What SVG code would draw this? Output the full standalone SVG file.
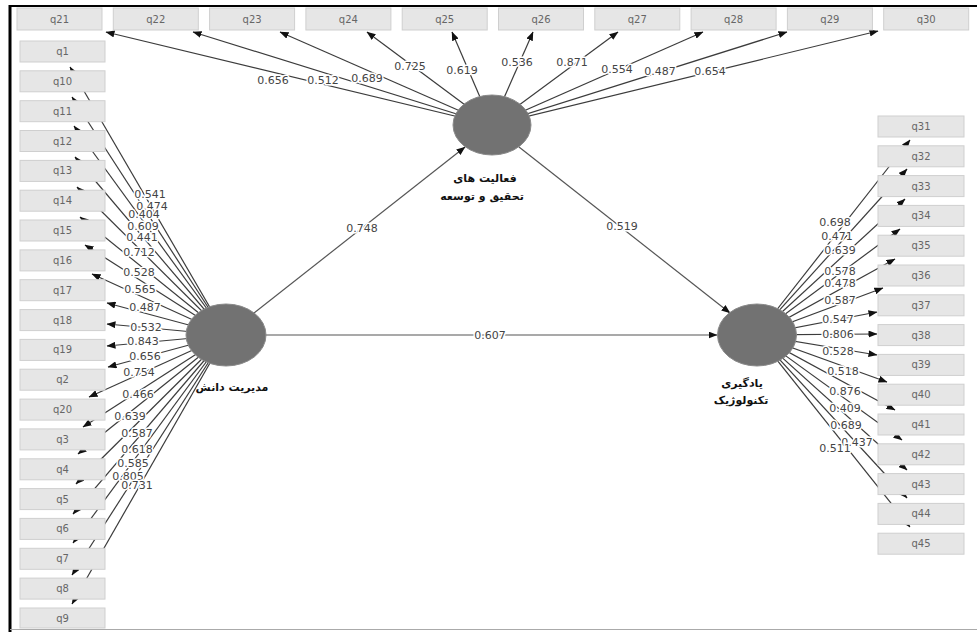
<svg xmlns="http://www.w3.org/2000/svg" width="977" height="632" viewBox="0 0 977 632">
<defs>
<marker id="ah" markerUnits="userSpaceOnUse" markerWidth="9" markerHeight="7" refX="8.5" refY="3.5" orient="auto"><path d="M0,0 L9,3.5 L0,7 z" fill="#111"/></marker>
<style>
.box{fill:#e6e6e6;stroke:#cfcfcf;stroke-width:1}
.bt{font-family:"DejaVu Sans",sans-serif;font-size:10px;fill:#666;text-anchor:middle}
.ind{stroke:#3c3c3c;stroke-width:1.2;marker-end:url(#ah)}
.str{stroke:#555;stroke-width:1.2;marker-end:url(#ah)}
.lv{fill:#727272;stroke:#8a8a8a;stroke-width:1}
.lb{font-family:"DejaVu Sans",sans-serif;font-size:11px;fill:#444;text-anchor:middle;paint-order:stroke;stroke:#fff;stroke-width:3px;stroke-linejoin:round}
.fa{font-family:"DejaVu Sans","Noto Sans",sans-serif;font-size:11px;font-weight:bold;fill:#111;text-anchor:middle}
</style>
</defs>
<rect width="977" height="632" fill="#fff"/>
<g id="frame">
<line x1="10" y1="5" x2="10" y2="632" stroke="#000" stroke-width="3"/>
<line x1="9" y1="6" x2="977" y2="6" stroke="#000" stroke-width="2"/>
<line x1="10" y1="629.5" x2="977" y2="629.5" stroke="#aaa" stroke-width="1"/>
</g>
<g id="connectors">
<!-- top fan from R&D -->
<line class="ind" x1="492" y1="125" x2="106" y2="32"/>
<line class="ind" x1="492" y1="125" x2="193" y2="32"/>
<line class="ind" x1="492" y1="125" x2="280" y2="32"/>
<line class="ind" x1="492" y1="125" x2="367" y2="32"/>
<line class="ind" x1="492" y1="125" x2="452" y2="32"/>
<line class="ind" x1="492" y1="125" x2="533" y2="32"/>
<line class="ind" x1="492" y1="125" x2="618" y2="32"/>
<line class="ind" x1="492" y1="125" x2="703" y2="32"/>
<line class="ind" x1="492" y1="125" x2="787" y2="32"/>
<line class="ind" x1="492" y1="125" x2="878" y2="31"/>
<!-- left fan from KM -->
<line class="ind" x1="226" y1="335" x2="70" y2="67"/>
<line class="ind" x1="226" y1="335" x2="72" y2="97"/>
<line class="ind" x1="226" y1="335" x2="74" y2="126"/>
<line class="ind" x1="226" y1="335" x2="75" y2="157"/>
<line class="ind" x1="226" y1="335" x2="77" y2="187"/>
<line class="ind" x1="226" y1="335" x2="80" y2="217"/>
<line class="ind" x1="226" y1="335" x2="85" y2="245"/>
<line class="ind" x1="226" y1="335" x2="92" y2="274"/>
<line class="ind" x1="226" y1="335" x2="107" y2="303"/>
<line class="ind" x1="226" y1="335" x2="107" y2="324"/>
<line class="ind" x1="226" y1="335" x2="107" y2="346"/>
<line class="ind" x1="226" y1="335" x2="108" y2="367"/>
<line class="ind" x1="226" y1="335" x2="89" y2="397"/>
<line class="ind" x1="226" y1="335" x2="83" y2="427"/>
<line class="ind" x1="226" y1="335" x2="78" y2="454"/>
<line class="ind" x1="226" y1="335" x2="76" y2="484"/>
<line class="ind" x1="226" y1="335" x2="73" y2="514"/>
<line class="ind" x1="226" y1="335" x2="73" y2="543"/>
<line class="ind" x1="226" y1="335" x2="72" y2="575"/>
<line class="ind" x1="226" y1="335" x2="72" y2="604"/>
<!-- right fan from learning -->
<line class="ind" x1="757" y1="335" x2="910" y2="140"/>
<line class="ind" x1="757" y1="335" x2="907" y2="169"/>
<line class="ind" x1="757" y1="335" x2="905" y2="199"/>
<line class="ind" x1="757" y1="335" x2="900" y2="229"/>
<line class="ind" x1="757" y1="335" x2="895" y2="259"/>
<line class="ind" x1="757" y1="335" x2="883" y2="288"/>
<line class="ind" x1="757" y1="335" x2="877" y2="312"/>
<line class="ind" x1="757" y1="335" x2="877" y2="334"/>
<line class="ind" x1="757" y1="335" x2="877" y2="355"/>
<line class="ind" x1="757" y1="335" x2="887" y2="382"/>
<line class="ind" x1="757" y1="335" x2="895" y2="410"/>
<line class="ind" x1="757" y1="335" x2="902" y2="440"/>
<line class="ind" x1="757" y1="335" x2="907" y2="470"/>
<line class="ind" x1="757" y1="335" x2="907" y2="498"/>
<line class="ind" x1="757" y1="335" x2="910" y2="527"/>
<!-- structural paths -->
<line class="str" x1="254" y1="313" x2="465" y2="147"/>
<line class="str" x1="519" y1="147" x2="730" y2="313"/>
<line class="str" x1="266" y1="335" x2="717" y2="335"/>
<!-- labels: top -->
<text class="lb" x="273" y="84">0.656</text>
<text class="lb" x="323" y="84">0.512</text>
<text class="lb" x="367" y="82">0.689</text>
<text class="lb" x="410" y="70">0.725</text>
<text class="lb" x="462" y="74">0.619</text>
<text class="lb" x="517" y="66">0.536</text>
<text class="lb" x="572" y="66">0.871</text>
<text class="lb" x="617" y="73">0.554</text>
<text class="lb" x="660" y="75">0.487</text>
<text class="lb" x="710" y="75">0.654</text>
<!-- labels: left -->
<text class="lb" x="150" y="198">0.541</text>
<text class="lb" x="152" y="210">0.474</text>
<text class="lb" x="144" y="218">0.404</text>
<text class="lb" x="143" y="230">0.609</text>
<text class="lb" x="142" y="241">0.441</text>
<text class="lb" x="139" y="256">0.712</text>
<text class="lb" x="139" y="276">0.528</text>
<text class="lb" x="140" y="293">0.565</text>
<text class="lb" x="145" y="311">0.487</text>
<text class="lb" x="146" y="331">0.532</text>
<text class="lb" x="143" y="345">0.843</text>
<text class="lb" x="145" y="360">0.656</text>
<text class="lb" x="139" y="376">0.754</text>
<text class="lb" x="138" y="398">0.466</text>
<text class="lb" x="130" y="420">0.639</text>
<text class="lb" x="137" y="437">0.587</text>
<text class="lb" x="137" y="453">0.618</text>
<text class="lb" x="133" y="467">0.585</text>
<text class="lb" x="128" y="480">0.805</text>
<text class="lb" x="137" y="489">0.731</text>
<!-- labels: right -->
<text class="lb" x="835" y="226">0.698</text>
<text class="lb" x="837" y="240">0.471</text>
<text class="lb" x="840" y="254">0.639</text>
<text class="lb" x="840" y="275">0.578</text>
<text class="lb" x="840" y="287">0.478</text>
<text class="lb" x="840" y="304">0.587</text>
<text class="lb" x="838" y="323">0.547</text>
<text class="lb" x="838" y="338">0.806</text>
<text class="lb" x="838" y="355">0.528</text>
<text class="lb" x="843" y="375">0.518</text>
<text class="lb" x="845" y="395">0.876</text>
<text class="lb" x="845" y="412">0.409</text>
<text class="lb" x="846" y="429">0.689</text>
<text class="lb" x="857" y="446">0.437</text>
<text class="lb" x="835" y="452">0.511</text>
<!-- structural labels -->
<text class="lb" x="362" y="232">0.748</text>
<text class="lb" x="622" y="230">0.519</text>
<text class="lb" x="490" y="339">0.607</text>
</g>
<g id="lv-rd"><ellipse class="lv" cx="492" cy="125" rx="39" ry="30"/><text class="fa" x="485" y="182">فعالیت های</text><text class="fa" x="482" y="200">تحقیق و توسعه</text></g>
<g id="lv-km"><ellipse class="lv" cx="226" cy="335" rx="40" ry="31"/><text class="fa" x="232" y="391">مدیریت دانش</text></g>
<g id="lv-tl"><ellipse class="lv" cx="757" cy="335" rx="39.5" ry="31"/><text class="fa" x="742" y="387">یادگیری</text><text class="fa" x="741" y="404">تکنولوژیک</text></g>
<g id="q21"><rect class="box" x="17" y="8" width="85" height="22"/><text class="bt" x="59.5" y="23">q21</text></g>
<g id="q22"><rect class="box" x="113.3" y="8" width="85" height="22"/><text class="bt" x="155.8" y="23">q22</text></g>
<g id="q23"><rect class="box" x="209.6" y="8" width="85" height="22"/><text class="bt" x="252.1" y="23">q23</text></g>
<g id="q24"><rect class="box" x="305.9" y="8" width="85" height="22"/><text class="bt" x="348.4" y="23">q24</text></g>
<g id="q25"><rect class="box" x="402.2" y="8" width="85" height="22"/><text class="bt" x="444.7" y="23">q25</text></g>
<g id="q26"><rect class="box" x="498.5" y="8" width="85" height="22"/><text class="bt" x="541" y="23">q26</text></g>
<g id="q27"><rect class="box" x="594.8" y="8" width="85" height="22"/><text class="bt" x="637.3" y="23">q27</text></g>
<g id="q28"><rect class="box" x="691.1" y="8" width="85" height="22"/><text class="bt" x="733.6" y="23">q28</text></g>
<g id="q29"><rect class="box" x="787.4" y="8" width="85" height="22"/><text class="bt" x="829.9" y="23">q29</text></g>
<g id="q30"><rect class="box" x="883.7" y="8" width="85" height="22"/><text class="bt" x="926.2" y="23">q30</text></g>
<g id="q1"><rect class="box" x="20" y="41" width="85" height="21"/><text class="bt" x="62.5" y="55">q1</text></g>
<g id="q10"><rect class="box" x="20" y="70.8" width="85" height="21"/><text class="bt" x="62.5" y="84.8">q10</text></g>
<g id="q11"><rect class="box" x="20" y="100.7" width="85" height="21"/><text class="bt" x="62.5" y="114.7">q11</text></g>
<g id="q12"><rect class="box" x="20" y="130.5" width="85" height="21"/><text class="bt" x="62.5" y="144.5">q12</text></g>
<g id="q13"><rect class="box" x="20" y="160.4" width="85" height="21"/><text class="bt" x="62.5" y="174.4">q13</text></g>
<g id="q14"><rect class="box" x="20" y="190.2" width="85" height="21"/><text class="bt" x="62.5" y="204.2">q14</text></g>
<g id="q15"><rect class="box" x="20" y="220" width="85" height="21"/><text class="bt" x="62.5" y="234">q15</text></g>
<g id="q16"><rect class="box" x="20" y="249.9" width="85" height="21"/><text class="bt" x="62.5" y="263.9">q16</text></g>
<g id="q17"><rect class="box" x="20" y="279.7" width="85" height="21"/><text class="bt" x="62.5" y="293.7">q17</text></g>
<g id="q18"><rect class="box" x="20" y="309.6" width="85" height="21"/><text class="bt" x="62.5" y="323.6">q18</text></g>
<g id="q19"><rect class="box" x="20" y="339.4" width="85" height="21"/><text class="bt" x="62.5" y="353.4">q19</text></g>
<g id="q2"><rect class="box" x="20" y="369.2" width="85" height="21"/><text class="bt" x="62.5" y="383.2">q2</text></g>
<g id="q20"><rect class="box" x="20" y="399.1" width="85" height="21"/><text class="bt" x="62.5" y="413.1">q20</text></g>
<g id="q3"><rect class="box" x="20" y="428.9" width="85" height="21"/><text class="bt" x="62.5" y="442.9">q3</text></g>
<g id="q4"><rect class="box" x="20" y="458.8" width="85" height="21"/><text class="bt" x="62.5" y="472.8">q4</text></g>
<g id="q5"><rect class="box" x="20" y="488.6" width="85" height="21"/><text class="bt" x="62.5" y="502.6">q5</text></g>
<g id="q6"><rect class="box" x="20" y="518.4" width="85" height="21"/><text class="bt" x="62.5" y="532.4">q6</text></g>
<g id="q7"><rect class="box" x="20" y="548.3" width="85" height="21"/><text class="bt" x="62.5" y="562.3">q7</text></g>
<g id="q8"><rect class="box" x="20" y="578.1" width="85" height="21"/><text class="bt" x="62.5" y="592.1">q8</text></g>
<g id="q9"><rect class="box" x="20" y="608" width="85" height="20"/><text class="bt" x="62.5" y="621.5">q9</text></g>
<g id="q31"><rect class="box" x="878" y="116" width="86" height="21"/><text class="bt" x="921" y="130">q31</text></g>
<g id="q32"><rect class="box" x="878" y="145.8" width="86" height="21"/><text class="bt" x="921" y="159.8">q32</text></g>
<g id="q33"><rect class="box" x="878" y="175.6" width="86" height="21"/><text class="bt" x="921" y="189.6">q33</text></g>
<g id="q34"><rect class="box" x="878" y="205.4" width="86" height="21"/><text class="bt" x="921" y="219.4">q34</text></g>
<g id="q35"><rect class="box" x="878" y="235.2" width="86" height="21"/><text class="bt" x="921" y="249.2">q35</text></g>
<g id="q36"><rect class="box" x="878" y="265" width="86" height="21"/><text class="bt" x="921" y="279">q36</text></g>
<g id="q37"><rect class="box" x="878" y="294.8" width="86" height="21"/><text class="bt" x="921" y="308.8">q37</text></g>
<g id="q38"><rect class="box" x="878" y="324.6" width="86" height="21"/><text class="bt" x="921" y="338.6">q38</text></g>
<g id="q39"><rect class="box" x="878" y="354.4" width="86" height="21"/><text class="bt" x="921" y="368.4">q39</text></g>
<g id="q40"><rect class="box" x="878" y="384.2" width="86" height="21"/><text class="bt" x="921" y="398.2">q40</text></g>
<g id="q41"><rect class="box" x="878" y="414" width="86" height="21"/><text class="bt" x="921" y="428">q41</text></g>
<g id="q42"><rect class="box" x="878" y="443.8" width="86" height="21"/><text class="bt" x="921" y="457.8">q42</text></g>
<g id="q43"><rect class="box" x="878" y="473.6" width="86" height="21"/><text class="bt" x="921" y="487.6">q43</text></g>
<g id="q44"><rect class="box" x="878" y="503.4" width="86" height="21"/><text class="bt" x="921" y="517.4">q44</text></g>
<g id="q45"><rect class="box" x="878" y="533.2" width="86" height="21"/><text class="bt" x="921" y="547.2">q45</text></g>
</svg>
